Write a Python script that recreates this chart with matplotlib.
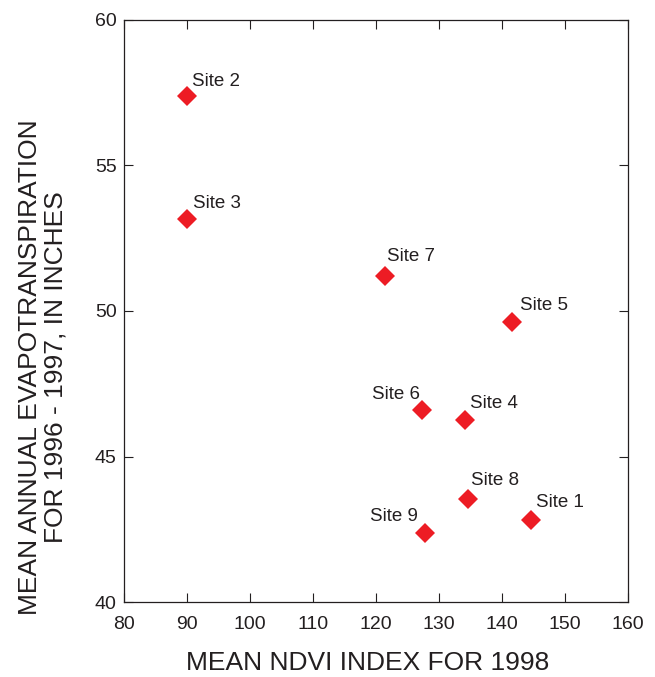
import matplotlib
matplotlib.use("Agg")
import matplotlib.pyplot as plt

plt.rcParams['font.family'] = ['Liberation Sans', 'DejaVu Sans']

# mean NDVI (1998) and mean annual ET (1996-1997) for each site
sites = ["Site 1", "Site 2", "Site 3", "Site 4", "Site 5",
         "Site 6", "Site 7", "Site 8", "Site 9"]
ndvi = [144.6, 90.1, 90.0, 134.1, 141.6, 127.4, 121.4, 134.6, 127.9]
et_inches = [42.83, 57.39, 53.16, 46.25, 49.63, 46.61, 51.21, 43.56, 42.37]

# label offsets in pixels (dx, dy) and horizontal alignment
label_offsets = [(5, 13, 'left'), (5, 10, 'left'), (6, 11, 'left'),
                 (5, 12, 'left'), (8, 12, 'left'), (-2, 11, 'right'),
                 (2, 15, 'left'), (3, 14, 'left'), (-8, 12, 'right')]

W, H = 655, 677
fig = plt.figure(figsize=(W / 100, H / 100), dpi=100)
ax = fig.add_axes([123.7 / W, 1 - 602.3 / H, 504 / W, 582.6 / H])

ax.plot(ndvi, et_inches, linestyle='none', marker='D', markersize=10.3,
        color='#ED1C24', markeredgewidth=0)

for name, x, y, (dx, dy, ha) in zip(sites, ndvi, et_inches, label_offsets):
    ax.annotate(name, (x, y), xytext=(dx, dy), textcoords='offset pixels',
                ha=ha, va='baseline', fontsize=13.5, color='#231F20')

ax.set_xlim(80, 160)
ax.set_ylim(40, 60)
ax.set_xticks(range(80, 161, 10))
ax.set_yticks(range(40, 61, 5))
ax.tick_params(direction='in', length=6.5, width=0.8, top=True, right=True,
               labelsize=14, colors='#231F20')
ax.tick_params(axis='x', pad=10)
ax.tick_params(axis='y', pad=5)
for sp in ax.spines.values():
    sp.set_linewidth(0.9)
    sp.set_color('#231F20')

fig.text(368 / W, 1 - 663 / H, "MEAN NDVI INDEX FOR 1998",
         ha='center', va='center', fontsize=19, color='#231F20')
fig.text(43 / W, 1 - 367 / H,
         "MEAN ANNUAL EVAPOTRANSPIRATION\nFOR 1996 - 1997, IN INCHES",
         ha='center', va='center', rotation=90, multialignment='center',
         fontsize=19, linespacing=1.1, color='#231F20')

fig.savefig("out.png", dpi=100)
